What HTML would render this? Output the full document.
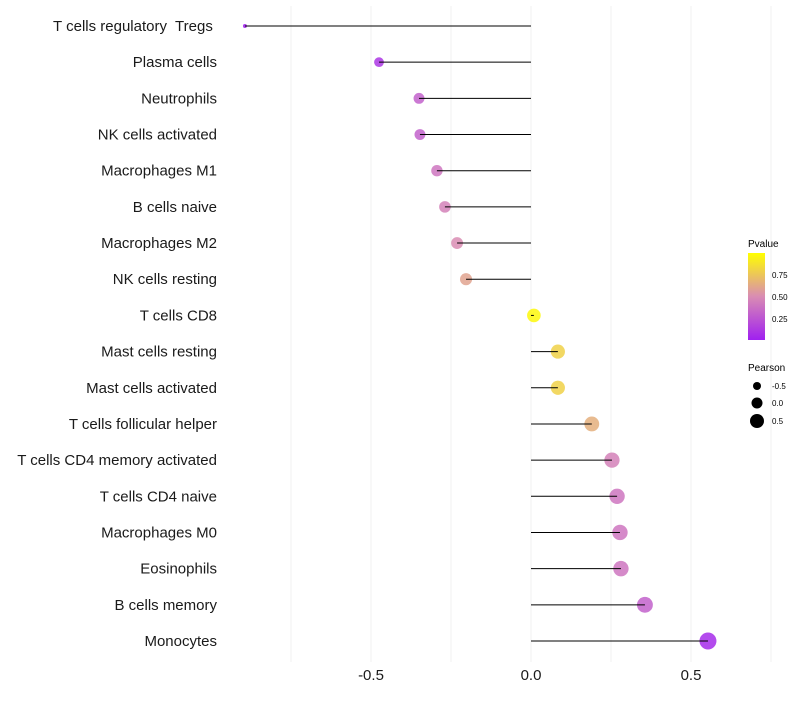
<!DOCTYPE html>
<html><head><meta charset="utf-8"><style>
body{margin:0;background:#fff}
svg{font-family:"Liberation Sans",sans-serif}
#labels text{white-space:pre}
</style></head><body>
<svg id="c" width="800" height="700">
<defs><linearGradient id="pg" x1="0" y1="1" x2="0" y2="0">
<stop offset="0" stop-color="#a020f0"/><stop offset="0.5" stop-color="#d98cb3"/><stop offset="1" stop-color="#ffff00"/>
</linearGradient></defs>
<g id="grid"></g><g id="marks"></g><g id="labels"></g><g id="xt"></g>
<g>
<text x="748" y="247" font-size="10" fill="#000">Pvalue</text>
<rect x="748" y="253" width="17" height="87" fill="url(#pg)"/>
<text x="772" y="278" font-size="8">0.75</text>
<text x="772" y="300" font-size="8">0.50</text>
<text x="772" y="322" font-size="8">0.25</text>
</g>
<g>
<text x="748" y="371" font-size="10">Pearson</text>
<circle cx="757" cy="386" r="4" fill="#000"/><text x="772" y="389" font-size="8">-0.5</text>
<circle cx="757" cy="403" r="5.5" fill="#000"/><text x="772" y="406" font-size="8">0.0</text>
<circle cx="757" cy="421" r="7" fill="#000"/><text x="772" y="424" font-size="8">0.5</text>
</g>
</svg>
<script>
const categories=["T cells regulatory  Tregs ","Plasma cells","Neutrophils","NK cells activated","Macrophages M1","B cells naive","Macrophages M2","NK cells resting","T cells CD8","Mast cells resting","Mast cells activated","T cells follicular helper","T cells CD4 memory activated","T cells CD4 naive","Macrophages M0","Eosinophils","B cells memory","Monocytes"];
const pearson=[-0.894,-0.475,-0.35,-0.347,-0.294,-0.269,-0.231,-0.203,0.009,0.084,0.084,0.19,0.253,0.269,0.278,0.281,0.356,0.553];
const pvalue=[0.0,0.1,0.3,0.3,0.4,0.45,0.5,0.6,0.97,0.8,0.8,0.65,0.45,0.4,0.4,0.4,0.3,0.05];
const xTicks=[-0.5,0,0.5];
const xTickLabels=["-0.5","0.0","0.5"];
const NS="http://www.w3.org/2000/svg";
const x=v=>531+v*320;
const y=i=>26+i*(615/17);
const r=v=>Math.sqrt(Math.max(0.5,4+(v+0.894)*47.2));
function lerp(a,b,t){return a.map((c,k)=>Math.round(c+(b[k]-c)*t));}
function col(p){const s0=[160,32,240],s1=[217,140,179],s2=[255,255,0];
const c=p<0.5?lerp(s0,s1,p/0.5):lerp(s1,s2,(p-0.5)/0.5);return`rgb(${c.join(',')})`;}
function mk(t,a,parent){const e=document.createElementNS(NS,t);for(const k in a)e.setAttribute(k,a[k]);parent.appendChild(e);return e;}
const grid=document.getElementById('grid');
for(let g=-0.75;g<=0.76;g+=0.25){const l=mk('line',{x1:x(g),x2:x(g),y1:6,y2:662,stroke:'#f0f0f0','stroke-width':1},grid);

}
const marks=document.getElementById('marks'),labels=document.getElementById('labels');
categories.forEach((c,i)=>{
const cc=mk('circle',{cx:x(pearson[i]),cy:y(i),r:r(pearson[i]),fill:col(pvalue[i]),'fill-opacity':0.85},marks);


const ln=mk('line',{x1:x(0),x2:x(pearson[i]),y1:y(i),y2:y(i),stroke:'#000','stroke-width':1},marks);


const t=mk('text',{x:217,y:y(i)+5,'text-anchor':'end','font-size':15,fill:'#1a1a1a'},labels);
t.textContent=c;


});
const xt=document.getElementById('xt');
xTicks.forEach((v,i)=>{const t=mk('text',{x:x(v),y:680,'text-anchor':'middle','font-size':15,fill:'#1a1a1a'},xt);
t.textContent=xTickLabels[i];

});
</script>
</body></html>
